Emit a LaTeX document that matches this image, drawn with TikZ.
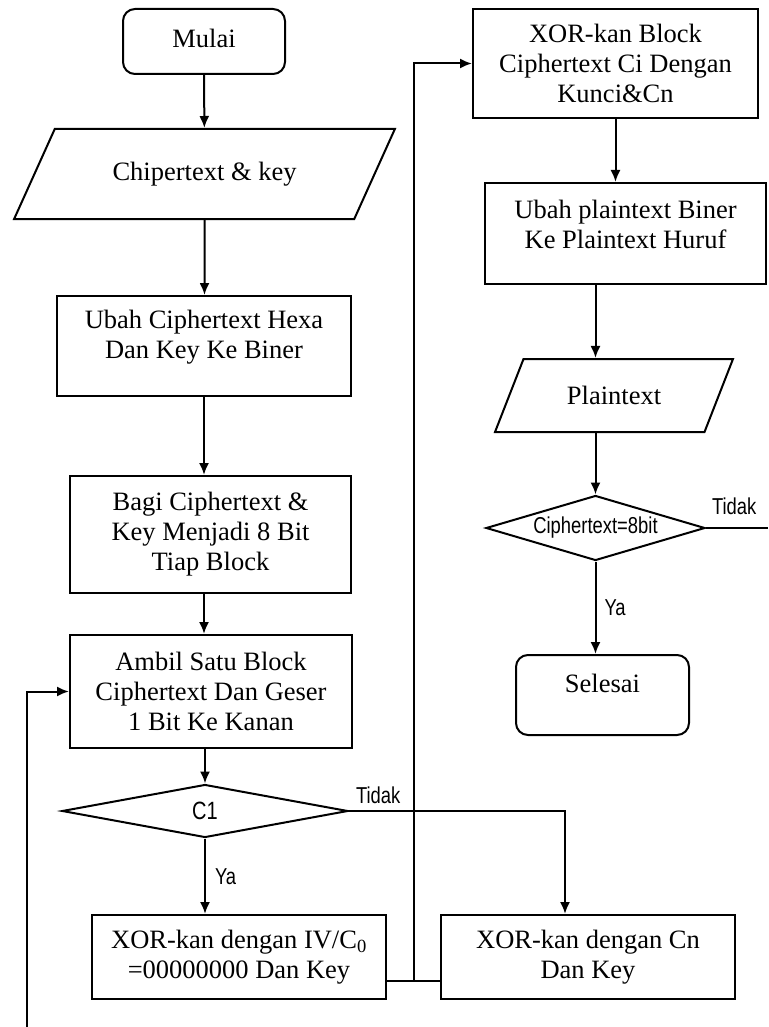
\documentclass[tikz,border=0pt]{standalone}
\usepackage{fontspec}
\setmainfont{Liberation Serif}
\newfontfamily\labelfont[FakeStretch=0.8]{Liberation Sans}
\usetikzlibrary{shapes.geometric,arrows.meta}

\tikzset{
	box/.style={draw, line width=2pt, align=center, inner sep=0pt,
		font=\fontsize{26.5}{30}\selectfont},
	rbox/.style={box, rounded corners=12pt},
	io/.style={box, trapezium, trapezium stretches=true},
	cond/.style={draw, diamond, line width=2pt, inner sep=0pt,
		font=\labelfont\fontsize{23}{26}\selectfont},
	lbl/.style={font=\labelfont\fontsize{23}{26}\selectfont, inner sep=0pt},
	arr/.style={-{Latex[length=12pt, width=10pt]}, line width=2pt},
	line/.style={line width=2pt}
}

\begin{document}
\begin{tikzpicture}[x=1pt, y=-1pt]
			\useasboundingbox (0, 0) rectangle (768, 1027);

			% left column
			\node[rbox, minimum width=162pt, minimum height=65pt, text depth=7pt]
				(mulai) at (204, 41.5) {Mulai};
			\node[io, minimum width=381pt, minimum height=90pt,
				trapezium left angle=44, trapezium right angle=136]
				(chiper) at (204.5, 174) {Chipertext \& key};
			\node[box, minimum width=294pt, minimum height=100pt, text depth=23pt]
				(ubah) at (204, 346) {Ubah Ciphertext Hexa\\Dan Key Ke Biner};
			\node[box, minimum width=281pt, minimum height=117pt]
				(bagi) at (210.5, 534.5) {Bagi Ciphertext \&\\Key Menjadi 8 Bit\\Tiap Block};
			\node[box, minimum width=282pt, minimum height=113pt]
				(ambil) at (211, 691.5) {Ambil Satu Block\\Ciphertext Dan Geser\\1 Bit Ke Kanan};
			\node[cond, minimum width=286pt, minimum height=53pt, aspect=5, font=\labelfont\fontsize{25}{27}\selectfont]
				(c1) at (205, 811) {C1};
			\node[box, minimum width=294pt, minimum height=84pt]
				(xoriv) at (239, 957) {XOR-kan dengan IV/C\textsubscript{0}\\=00000000 Dan Key};
			\node[box, minimum width=294pt, minimum height=84pt]
				(xorcn) at (588, 957) {XOR-kan dengan Cn\\Dan Key};

			% right column
			\node[box, minimum width=285pt, minimum height=109pt]
				(xorblock) at (615.5, 63.5) {XOR-kan Block\\Ciphertext Ci Dengan\\Kunci\&Cn};
			\node[box, minimum width=281pt, minimum height=101pt, text depth=19pt]
				(ubahplain) at (625.5, 233.5) {Ubah plaintext Biner\\Ke Plaintext Huruf};
			\node[io, minimum width=238pt, minimum height=73pt,
				trapezium left angle=51.5, trapezium right angle=128.5]
				(plain) at (614, 395.5) {Plaintext};
			\node[cond, minimum width=219pt, minimum height=65pt, aspect=3.4]
				(cek) at (595.5, 528) {Ciphertext=8bit};
			\node[rbox, minimum width=173pt, minimum height=80pt, text depth=24pt]
				(selesai) at (602.5, 695) {Selesai};

			% free ends
			\coordinate (loopin) at (27, 1027);
			\coordinate (cekout) at (768, 528);
			\coordinate (join) at (414, 981);

			% arrows left
			\draw[arr]
				(mulai) -- (chiper);
			\draw[arr]
				(chiper) -- (chiper.south |- ubah.north);
			\draw[arr]
				(ubah.south -| mulai) -- (bagi.north -| mulai);
			\draw[arr]
				(bagi.south -| mulai) -- (ambil.north -| mulai);
			\draw[arr]
				(ambil.south -| c1) -- (c1.north);
			\draw[arr]
				(c1.south) -- (c1.south |- xoriv.north)
				node[lbl, midway, right=9pt] (yaa) {Ya};
			\draw[arr]
				(c1.east) -| ([xshift=-23pt]xorcn.north)
				node[lbl, pos=0, anchor=south west, xshift=6pt, yshift=6pt] (tidaka) {Tidak};
			\draw[arr]
				(loopin) |- (ambil.west);
			\draw[line]
				(xoriv.east |- join) -- (xorcn.west |- join);
			\draw[arr]
				(join) |- (xorblock.west);

			% arrows right
			\draw[arr]
				(xorblock.south) -- (xorblock.south |- ubahplain.north);
			\draw[arr]
				(ubahplain.south -| cek.north) -- (plain.north -| cek.north);
			\draw[arr]
				(plain.south -| cek.north) -- (cek.north);
			\draw[arr]
				(cek.south) -- (cek.south |- selesai.north)
				node[lbl, midway, right=8pt] (yab) {Ya};
			\draw[line]
				(cek.east) -- (cekout)
				node[lbl, pos=0, anchor=south west, xshift=5pt, yshift=12pt] (tidakb) {Tidak};

		\end{tikzpicture}
\end{document}
